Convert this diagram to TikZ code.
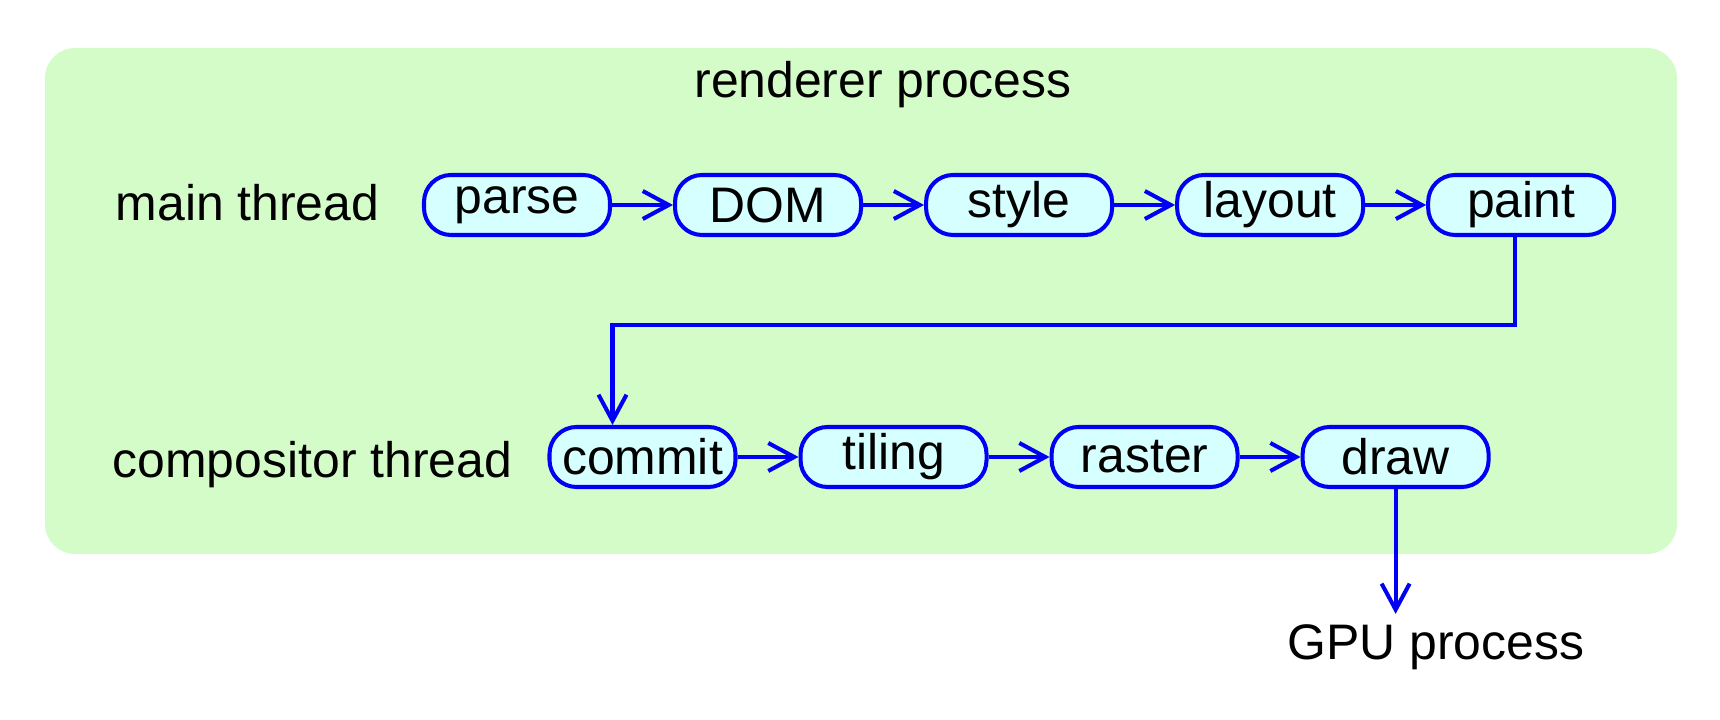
\documentclass[tikz,border=0pt]{standalone}
\usepackage{fontspec}
\setmainfont{Liberation Sans}
\usepackage{xcolor}
\usepackage{tikz}
\usetikzlibrary{positioning,arrows.meta}
\definecolor{rendergreen}{RGB}{212,252,200}
\definecolor{stagefill}{RGB}{214,255,255}
\definecolor{stageblue}{RGB}{0,0,245}

\begin{document}
\begin{tikzpicture}[font=\fontsize{14.2}{17}\selectfont, node distance=0.61cm,
    stage/.style={draw=stageblue, fill=stagefill, line width=1.15pt, rounded corners=0.27cm,
        minimum width=1.86cm, minimum height=0.6cm, inner sep=0pt},
    flow/.style={draw=stageblue, line width=1.15pt, -{Straight Barb[length=2.6mm,width=2.8mm]}}]
\useasboundingbox (0,0) rectangle (17.2,-7.2);
\fill[rendergreen, rounded corners=0.3cm] (0.45,-0.48) rectangle (16.77,-5.54);
\node[anchor=base, inner sep=0pt] (renderer) at (8.83,-0.98) {renderer process};
\node[anchor=base west, inner sep=0pt] (mainthread) at (1.15,-2.21) {main thread};
\node[anchor=base west, inner sep=0pt] (compthread) at (1.12,-4.78) {compositor thread};
\node[stage] (parse) at (5.17,-2.05) {parse};
\node[stage, right=of parse] (dom) {DOM};
\node[stage, right=of dom] (styl) {style};
\node[stage, right=of styl] (layout) {layout};
\node[stage, right=of layout] (paint) {paint};
\node[stage] (commit) at (6.425,-4.57) {commit};
\node[stage, right=of commit] (tiling) {tiling};
\node[stage, right=of tiling] (raster) {raster};
\node[stage, right=of raster] (gpudraw) {draw};
\node[anchor=base, inner sep=3pt] (gpu) at (14.36,-6.60) {GPU process};
\foreach \a/\b in {parse/dom,dom/styl,styl/layout,layout/paint,commit/tiling,tiling/raster,raster/gpudraw}
    \draw[flow] (\a) -- (\b);
\draw[flow] ([xshift=-0.06cm]paint.south) -- ++(0,-0.88) -| ([xshift=-0.3cm]commit.north);
\draw[flow] (gpudraw.south) -- (gpudraw.south |- gpu.north);
\end{tikzpicture}
\end{document}
